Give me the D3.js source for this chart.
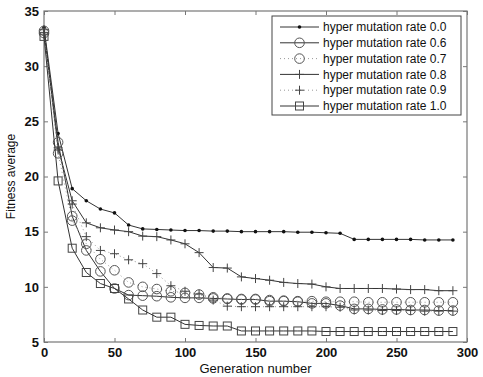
<!DOCTYPE html>
<html>
<head>
<meta charset="utf-8">
<script src="https://cdn.jsdelivr.net/npm/d3@7"></script>
<style>
  body { margin: 0; background: #fff; }
  svg text { font-family: "Liberation Sans", Arial, sans-serif; fill: #111; }
</style>
</head>
<body>
<div id="chart"></div>
<script>
// generations sampled every 10
const generations = d3.range(0, 300, 10);

const seriesNames = [
  'hyper mutation rate 0.0',
  'hyper mutation rate 0.6',
  'hyper mutation rate 0.7',
  'hyper mutation rate 0.8',
  'hyper mutation rate 0.9',
  'hyper mutation rate 1.0',
];

const rate00 = [33.5, 23.9, 18.9, 17.8, 17.05, 16.7, 15.6, 15.25, 15.2, 15.15,
  15.1, 15.1, 15.05, 15.05, 15.0, 15.0, 15.0, 15.0, 14.95, 14.95,
  14.9, 14.85, 14.3, 14.3, 14.3, 14.3, 14.3, 14.25, 14.25, 14.25];
const rate06 = [33.2, 23.1, 16.4, 13.3, 11.4, 9.85, 9.25, 9.2, 9.15, 9.05,
  9.0, 9.0, 8.95, 8.9, 8.85, 8.85, 8.7, 8.7, 8.65, 8.5,
  8.5, 8.3, 8.0, 8.0, 7.95, 7.95, 7.9, 7.9, 7.85, 7.85];
const rate07 = [33.0, 22.1, 16.0, 13.9, 12.5, 11.5, 10.4, 10.0, 9.8, 9.6,
  9.45, 9.3, 9.05, 8.95, 8.9, 8.9, 8.8, 8.75, 8.7, 8.7,
  8.65, 8.65, 8.65, 8.6, 8.6, 8.6, 8.6, 8.6, 8.6, 8.6];
const rate08 = [33.3, 22.6, 17.8, 15.8, 15.35, 15.15, 15.0, 14.6, 14.55, 14.25,
  13.9, 13.1, 11.75, 11.7, 10.9, 10.75, 10.6, 10.4, 10.3, 10.25,
  10.0, 9.85, 9.85, 9.85, 9.85, 9.8, 9.75, 9.75, 9.65, 9.65];
const rate09 = [32.9, 22.4, 17.5, 14.55, 13.3, 13.0, 12.45, 12.1, 11.2, 10.1,
  9.6, 9.35, 8.8, 8.25, 8.2, 8.2, 8.2, 8.2, 8.2, 8.2,
  8.2, 8.15, 7.9, 7.9, 7.85, 7.85, 7.85, 7.8, 7.8, 7.8];
const rate10 = [32.7, 19.6, 13.5, 11.3, 10.3, 9.85, 8.9, 7.9, 7.25, 7.25,
  6.6, 6.5, 6.45, 6.45, 6.0, 6.0, 6.0, 6.0, 6.0, 6.0,
  5.95, 5.95, 5.95, 5.95, 5.95, 5.95, 5.95, 5.95, 5.95, 5.95];

const xTicks = [0, 50, 100, 150, 200, 250, 300];
const yTicks = [5, 10, 15, 20, 25, 30, 35];

const series = [
  { name: seriesNames[0], values: rate00, marker: 'dot', dash: null },
  { name: seriesNames[1], values: rate06, marker: 'circle', dash: null },
  { name: seriesNames[2], values: rate07, marker: 'circle', dash: '1,3' },
  { name: seriesNames[3], values: rate08, marker: 'plus', dash: null },
  { name: seriesNames[4], values: rate09, marker: 'plus', dash: '1,3' },
  { name: seriesNames[5], values: rate10, marker: 'square', dash: null },
];

const W = 483, H = 377;
const margin = { top: 11, right: 16, bottom: 35, left: 44 };
const width = W - margin.left - margin.right,
  height = H - margin.top - margin.bottom;

const svg = d3.select('#chart').append('svg')
  .attr('width', W)
  .attr('height', H);

const g = svg.append('g')
  .attr('transform', 'translate(' + margin.left + ',' + margin.top + ')');

const x = d3.scaleLinear().domain([0, 300]).range([0, width]);
const y = d3.scaleLinear().domain([5, 35]).range([height, 0]);

const lineCol = '#333';
const frameCol = '#777';

// axes box, MATLAB style with inner ticks on all sides
g.append('g')
  .attr('transform', 'translate(0,' + height + ')')
  .call(d3.axisBottom(x).tickValues(xTicks).tickSizeInner(-4).tickSizeOuter(0).tickPadding(6))
  .call((a) => a.select('.domain').remove());
g.append('g')
  .call(d3.axisTop(x).tickValues(xTicks).tickSizeInner(-4).tickSizeOuter(0).tickFormat(''))
  .call((a) => a.select('.domain').remove());
g.append('g')
  .call(d3.axisLeft(y).tickValues(yTicks).tickSizeInner(-4).tickSizeOuter(0).tickPadding(5))
  .call((a) => a.select('.domain').remove());
g.append('g')
  .attr('transform', 'translate(' + width + ',0)')
  .call(d3.axisRight(y).tickValues(yTicks).tickSizeInner(-4).tickSizeOuter(0).tickFormat(''))
  .call((a) => a.select('.domain').remove());

g.selectAll('.tick line').attr('stroke', frameCol);
g.selectAll('.tick text')
  .style('font-size', '13px')
  .style('font-weight', 'bold')
  .attr('fill', '#111');

g.append('rect')
  .attr('width', width)
  .attr('height', height)
  .attr('fill', 'none')
  .attr('stroke', frameCol)
  .attr('stroke-width', 1.2);

// axis titles
svg.append('text')
  .attr('x', margin.left + width / 2)
  .attr('y', H - 4)
  .attr('text-anchor', 'middle')
  .style('font-size', '13px')
  .text('Generation number');

svg.append('text')
  .attr('transform', 'translate(15,' + (margin.top + height / 2) + ') rotate(-90)')
  .attr('text-anchor', 'middle')
  .style('font-size', '12px')
  .text('Fitness average');

function drawMarker(sel, type) {
  if (type === 'dot') {
    sel.append('circle').attr('r', 1.8).attr('fill', '#111');
  } else if (type === 'circle') {
    sel.append('circle').attr('r', 4.8).attr('fill', 'none')
      .attr('stroke', '#555').attr('stroke-width', 1);
  } else if (type === 'plus') {
    sel.append('path').attr('d', 'M-4.5,0H4.5M0,-4.5V4.5')
      .attr('stroke', '#444').attr('stroke-width', 1);
  } else if (type === 'square') {
    sel.append('rect').attr('x', -4).attr('y', -4)
      .attr('width', 8).attr('height', 8)
      .attr('fill', 'none').attr('stroke', '#444').attr('stroke-width', 1);
  }
}

const line = d3.line()
  .x((d, i) => x(generations[i]))
  .y((d) => y(d));

series.forEach((s) => {
  g.append('path')
    .datum(s.values)
    .attr('fill', 'none')
    .attr('stroke', s.dash ? '#999' : lineCol)
    .attr('stroke-width', 1)
    .attr('stroke-dasharray', s.dash)
    .attr('d', line);

  g.append('g')
    .selectAll('g')
    .data(s.values)
    .join('g')
    .attr('transform', (d, i) => 'translate(' + x(generations[i]) + ',' + y(d) + ')')
    .each(function () { drawMarker(d3.select(this), s.marker); });
});

// legend
const legend = svg.append('g').attr('transform', 'translate(272,16)');
legend.append('rect')
  .attr('width', 189)
  .attr('height', 99)
  .attr('fill', '#fff')
  .attr('stroke', '#444')
  .attr('stroke-width', 1);

const items = legend.selectAll('.item')
  .data(series)
  .join('g')
  .attr('class', 'item')
  .attr('transform', (d, i) => 'translate(0,' + (11 + i * 15.8) + ')');

items.append('line')
  .attr('x1', 8).attr('x2', 47)
  .attr('stroke', (d) => d.dash ? '#999' : lineCol)
  .attr('stroke-width', 1)
  .attr('stroke-dasharray', (d) => d.dash);

items.append('g')
  .attr('transform', 'translate(27.5,0)')
  .each(function (d) { drawMarker(d3.select(this), d.marker); });

items.append('text')
  .attr('x', 51)
  .attr('dy', '0.35em')
  .style('font-size', '12px')
  .text((d) => d.name);
</script>
</body>
</html>
